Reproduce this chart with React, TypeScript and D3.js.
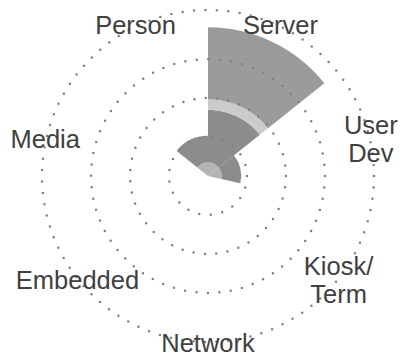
import React from "react";
import * as d3 from "d3";

const categories = ["Server", "User\nDev", "Kiosk/\nTerm", "Network", "Embedded", "Media", "Person"];
// stacked layers (inner -> outer), values per category in the same order as categories
const layerInner = [0.35, 0.35, 0, 0, 0, 0, 0.35];
const layerDark = [1.35, 0.5, 0, 0, 0, 0, 0.68];
const layerBand = [0.27, 0, 0, 0, 0, 0, 0];
const layerTop = [1.85, 0, 0, 0, 0, 0, 0];
const layers = [layerInner, layerDark, layerBand, layerTop];
const layerColors = ["#b4b4b4", "#8c8c8c", "#cbcbcb", "#9b9b9b"];
const gridTicks = [1, 2, 3];
const maxValue = 4.26;

export default function App() {
  const width = 400;
  const height = 358;
  const cx = 208;
  const cy = 176;
  const outerR = 166;
  const r = d3.scaleLinear().domain([0, maxValue]).range([0, outerR]);
  const n = categories.length;
  const step = (2 * Math.PI) / n;

  const wedges: { d: string; fill: string; key: string }[] = [];
  categories.forEach((c, i) => {
    let acc = 0;
    layers.forEach((layer, li) => {
      const v = layer[i];
      if (v > 0) {
        const arc = d3.arc()({
          innerRadius: r(acc),
          outerRadius: r(acc + v),
          startAngle: i * step,
          endAngle: (i + 1) * step,
        } as any) as string;
        wedges.push({ d: arc, fill: layerColors[li], key: `${i}-${li}` });
      }
      acc += v;
    });
  });

  const labelR = 167;
  const fontSize = 25.5;
  const lineH = 28.5;

  return (
    <svg
      width={width}
      height={height}
      style={{ position: "absolute", left: 0, top: 0, background: "#fff" }}
    >
      <rect width={width} height={height} fill="#fff" />
      <g transform={`translate(${cx},${cy})`}>
        {wedges.map((w) => (
          <path key={w.key} d={w.d} fill={w.fill} />
        ))}
        {[...gridTicks.map((t) => r(t)), outerR].map((rad, i) => (
          <circle
            key={i}
            r={rad}
            fill="none"
            stroke="#808080"
            strokeWidth={2.5}
            strokeLinecap="round"
            strokeDasharray={`0 ${(2 * Math.PI * rad) / Math.round((2 * Math.PI * rad) / 11.5)}`}
          />
        ))}
        {categories.map((c, i) => {
          const a = (i + 0.5) * step;
          const x = labelR * Math.sin(a);
          const y = -labelR * Math.cos(a);
          const lines = c.split("\n");
          const y0 = y - ((lines.length - 1) * lineH) / 2 + fontSize * 0.35;
          return (
            <text
              key={c}
              x={x}
              y={y0}
              textAnchor="middle"
              fontFamily="Liberation Sans, Arial, sans-serif"
              fontSize={fontSize}
              fill="#404040"
            >
              {lines.map((l, j) => (
                <tspan key={j} x={x} y={y0 + j * lineH}>
                  {l}
                </tspan>
              ))}
            </text>
          );
        })}
      </g>
    </svg>
  );
}
